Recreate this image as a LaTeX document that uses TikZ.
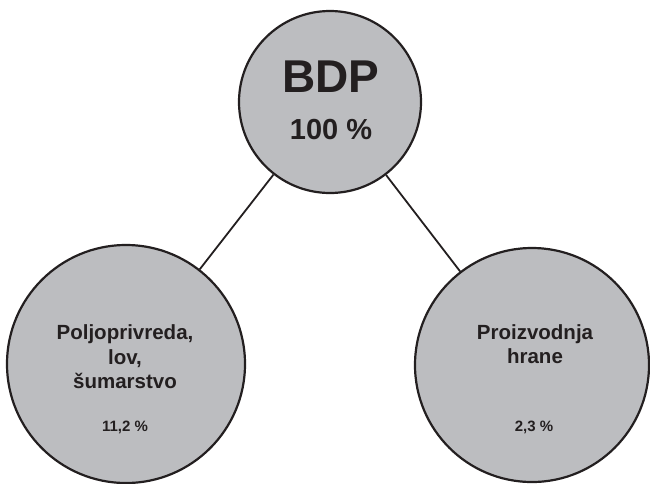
\documentclass[tikz,border=0pt]{standalone}
\usepackage{fontspec}
\setmainfont{Liberation Sans}
\definecolor{circfill}{HTML}{BCBDC0}
\definecolor{ink}{HTML}{231F20}
\begin{document}
\begin{tikzpicture}[x=1pt,y=-1pt,
  bubble/.style={circle,draw=ink,fill=circfill,line width=2.2pt,inner sep=0pt},
  lbl/.style={anchor=base,inner sep=0pt,text=ink,font=\bfseries},
  link/.style={draw=ink,line width=1.8pt}]
\useasboundingbox (0,0) rectangle (650,483);
\node[bubble,minimum size=182pt] (top) at (330,102) {};
\node[bubble,minimum size=238pt] (left) at (126,364) {};
\node[bubble,minimum size=234pt] (right) at (532,365) {};
\draw[link] (top) -- (left);
\draw[link] (top) -- (right);
\node[lbl,font=\bfseries\fontsize{46}{50}\selectfont] (t1) at (331,92.5) {BDP};
\node[lbl,font=\bfseries\fontsize{29}{33}\selectfont] (t2) at (331,139) {100 \%};
\node[lbl,font=\bfseries\fontsize{20.5}{24}\selectfont] (l1) at (125,339) {Poljoprivreda,};
\node[lbl,font=\bfseries\fontsize{20.5}{24}\selectfont] (l2) at (125,364) {lov,};
\node[lbl,font=\bfseries\fontsize{20.5}{24}\selectfont] (l3) at (125,388) {šumarstvo};
\node[lbl,font=\bfseries\fontsize{15}{18}\selectfont] (l4) at (125,431) {11,2 \%};
\node[lbl,font=\bfseries\fontsize{20.5}{24}\selectfont] (r1) at (535,339) {Proizvodnja};
\node[lbl,font=\bfseries\fontsize{20.5}{24}\selectfont] (r2) at (535,363) {hrane};
\node[lbl,font=\bfseries\fontsize{15}{18}\selectfont] (r3) at (534,431) {2,3 \%};
\end{tikzpicture}
\end{document}
